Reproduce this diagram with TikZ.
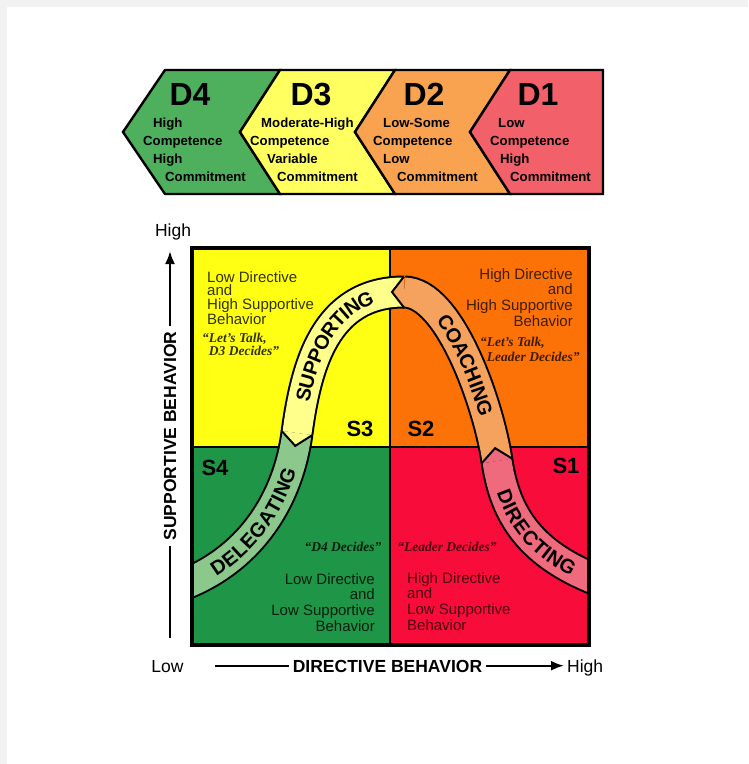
\documentclass[tikz,border=0pt]{standalone}
\usepackage{fontspec}
\setmainfont{Liberation Sans}
\newfontfamily\quotefont{Liberation Serif}
\usetikzlibrary{arrows.meta,calc,decorations.text}

\definecolor{pagegrey}{HTML}{F2F2F2}
\definecolor{d4c}{HTML}{4EAF5C}
\definecolor{d3c}{HTML}{FFFF60}
\definecolor{d2c}{HTML}{F9A24F}
\definecolor{d1c}{HTML}{F2606A}
\definecolor{yellowq}{HTML}{FFFF14}
\definecolor{orangeq}{HTML}{FC7206}
\definecolor{greenq}{HTML}{1F9548}
\definecolor{redq}{HTML}{F80C3A}
\definecolor{delband}{HTML}{8CC88C}
\definecolor{supband}{HTML}{FFFF8C}
\definecolor{coaband}{HTML}{F5A25E}
\definecolor{dirband}{HTML}{EE6A7C}

\newcommand\bandtext{\bfseries\fontsize{20}{20}\selectfont}

\tikzset{
  dbox/.style={draw=black, line width=2.4pt, line join=miter},
  dlabel/.style={font=\bfseries\fontsize{32}{32}\selectfont, anchor=base, inner sep=0},
  dline/.style={font=\bfseries\fontsize{13.2}{16}\selectfont, anchor=base west, inner sep=0},
  quadtext/.style={font=\fontsize{15}{15.8}\selectfont, inner sep=0},
  quotetext/.style={font=\quotefont\bfseries\itshape\fontsize{13.5}{15}\selectfont, inner sep=0},
  slabel/.style={font=\bfseries\fontsize{22}{22}\selectfont, anchor=base, inner sep=0},
  band/.style={line width=2pt, double=#1, double distance=29pt},
  chev/.style={fill=#1, draw=black, line width=2pt, line join=miter},
  axisline/.style={line width=2.2pt},
  axislabel/.style={font=\bfseries\fontsize{17.5}{17.5}\selectfont, inner sep=5pt},
  axisend/.style={font=\fontsize{17.5}{17.5}\selectfont, anchor=base, inner sep=3pt},
}

\begin{document}
\begin{tikzpicture}[x=1pt, y=-1pt]
\useasboundingbox (0,0) rectangle (748,764);
\fill[pagegrey] (0,0) rectangle (748,764);
\fill[white] (7,7) rectangle (748,764);

% development levels
\filldraw[dbox, fill=d4c] (165,70) -- (280,70) -- (240,132) -- (280,194) -- (165,194) -- (123,132) -- cycle;
\filldraw[dbox, fill=d3c] (280,70) -- (395,70) -- (355,132) -- (395,194) -- (280,194) -- (240,132) -- cycle;
\filldraw[dbox, fill=d2c] (395,70) -- (510,70) -- (470,132) -- (510,194) -- (395,194) -- (355,132) -- cycle;
\filldraw[dbox, fill=d1c] (510,70) -- (603,70) -- (603,194) -- (510,194) -- (470,132) -- cycle;

\node[dlabel] (d4) at (190,105) {D4};
\node[dlabel] (d3) at (311,105) {D3};
\node[dlabel] (d2) at (424,105) {D2};
\node[dlabel] (d1) at (538,105) {D1};

\node[dline] (d4a) at (153,127) {High};
\node[dline] (d4b) at (143,145) {Competence};
\node[dline] (d4c) at (153,163) {High};
\node[dline] (d4d) at (165,181) {Commitment};
\node[dline] (d3a) at (261,127) {Moderate-High};
\node[dline] (d3b) at (250,145) {Competence};
\node[dline] (d3c) at (267,163) {Variable};
\node[dline] (d3d) at (277,181) {Commitment};
\node[dline] (d2a) at (383,127) {Low-Some};
\node[dline] (d2b) at (373,145) {Competence};
\node[dline] (d2c) at (383,163) {Low};
\node[dline] (d2d) at (397,181) {Commitment};
\node[dline] (d1a) at (498,127) {Low};
\node[dline] (d1b) at (490,145) {Competence};
\node[dline] (d1c) at (500,163) {High};
\node[dline] (d1d) at (510,181) {Commitment};

% quadrants
\fill[yellowq] (192,248) rectangle (390,447);
\fill[orangeq] (390,248) rectangle (589,447);
\fill[greenq] (192,447) rectangle (390,645);
\fill[redq] (390,447) rectangle (589,645);
\draw[line width=2.5pt] (390,248) -- (390,645) (192,447) -- (589,447);

\node[quadtext, anchor=north west, align=left, text=black!80!yellowq, font=\fontsize{15}{13.8}\selectfont] (s3text) at (207,271) {Low Directive\\and\\High Supportive\\Behavior};
\node[quotetext, anchor=north west, align=left, text=black!80!yellowq, font=\quotefont\bfseries\itshape\fontsize{13.5}{12.5}\selectfont] (s3quote) at (202,333) {“Let’s Talk,\\\phantom{“}D3 Decides”};
\node[quadtext, anchor=north east, align=right, text=black!75!orangeq] (s2text) at (573,268) {High Directive\\and\\High Supportive\\Behavior};
\node[quotetext, anchor=north west, align=left, text=black!75!orangeq] (s2quote) at (480,337) {“Let’s Talk,\\\phantom{“}Leader Decides”};
\node[quotetext, text=black!80!greenq] (s4quote) at (343,547) {“D4 Decides”};
\node[quadtext, anchor=north east, align=right, text=black!80!greenq] (s4text) at (375,573) {Low Directive\\and\\Low Supportive\\Behavior};
\node[quotetext, text=black!70!redq] (s1quote) at (447,547) {“Leader Decides”};
\node[quadtext, anchor=north west, align=left, text=black!70!redq] (s1text) at (407,572) {High Directive\\and\\Low Supportive\\Behavior};

\node[slabel] (s3) at (360,436) {S3};
\node[slabel] (s2) at (421,436) {S2};
\node[slabel] (s4) at (215,475) {S4};
\node[slabel] (s1) at (566,473) {S1};

% the curve through the four styles
\coordinate (e0) at (180,586);
\coordinate (dc1) at (250,560);
\coordinate (dc2) at (288,500);
\coordinate (j3) at (297,433);
\coordinate (sc1) at (306,366);
\coordinate (sc2) at (325,292);
\coordinate (j2) at (404,292);
\coordinate (cc1) at (450,292);
\coordinate (cc2) at (489,406);
\coordinate (j1) at (497,461);
\coordinate (rc1) at (505,515);
\coordinate (rc2) at (530,555);
\coordinate (e1) at (602,582);

\begin{scope}
\clip (192,248) rectangle (589,645);
\draw[band=delband] (e0) .. controls (dc1) and (dc2) .. (j3);
\draw[band=supband] (j3) .. controls (sc1) and (sc2) .. (j2);
\draw[band=coaband] (j2) .. controls (cc1) and (cc2) .. (j1);
\draw[band=dirband] (j1) .. controls (rc1) and (rc2) .. (e1);

\filldraw[chev=supband] ($(j3)!15.5pt!90:(dc2)$) -- ($(j3)!13pt!(dc2)$) -- ($(j3)!15.5pt!-90:(dc2)$);
\filldraw[chev=coaband] ($(j2)!15.5pt!90:(sc2)$) -- ($(j2)!12pt!(sc2)$) -- ($(j2)!15.5pt!-90:(sc2)$);
\filldraw[chev=dirband] ($(j1)!15.5pt!90:(cc2)$) -- ($(j1)!13pt!(cc2)$) -- ($(j1)!15.5pt!-90:(cc2)$);

\path[decorate, decoration={text along path, text={|\bandtext|DELEGATING}, text align={center}, raise=-7.2pt}] (e0) .. controls (dc1) and (dc2) .. (j3);
\path[decorate, decoration={text along path, text={|\bandtext|SUPPORTING}, text align={center}, raise=-7.2pt}] (j3) .. controls (sc1) and (sc2) .. (j2);
\path[decorate, decoration={text along path, text={|\bandtext|COACHING}, text align={center}, raise=-7.2pt}] (j2) .. controls (cc1) and (cc2) .. (j1);
\path[decorate, decoration={text along path, text={|\bandtext|DIRECTING}, text align={center}, raise=-7.2pt}] (j1) .. controls (rc1) and (rc2) .. (e1);
\end{scope}

\draw[line width=4pt] (192,248) rectangle (589,645);

% axes
\node[axislabel, rotate=90] (supplab) at (170,436) {SUPPORTIVE BEHAVIOR};
\coordinate (ybot) at (170,638);
\coordinate (ytop) at (170,251);
\node[axisend] (yhigh) at (173,236) {High};
\draw[axisline] (ybot) -- (supplab.west);
\draw[axisline, -{Latex[length=13pt, width=10pt]}] (supplab.east) -- (ytop);

\node[axislabel, anchor=base, inner sep=4pt] (dirlab) at (387.5,672) {DIRECTIVE BEHAVIOR};
\node[axisend] (xlow) at (167.5,672) {Low};
\node[axisend, anchor=base west] (xhigh) at (564,672) {High};
\coordinate (xstart) at (215,665.7);
\draw[axisline] (xstart) -- (xstart -| dirlab.west);
\draw[axisline, -{Latex[length=13pt, width=10pt]}] (xstart -| dirlab.east) -- (xstart -| xhigh.west);
\end{tikzpicture}
\end{document}
